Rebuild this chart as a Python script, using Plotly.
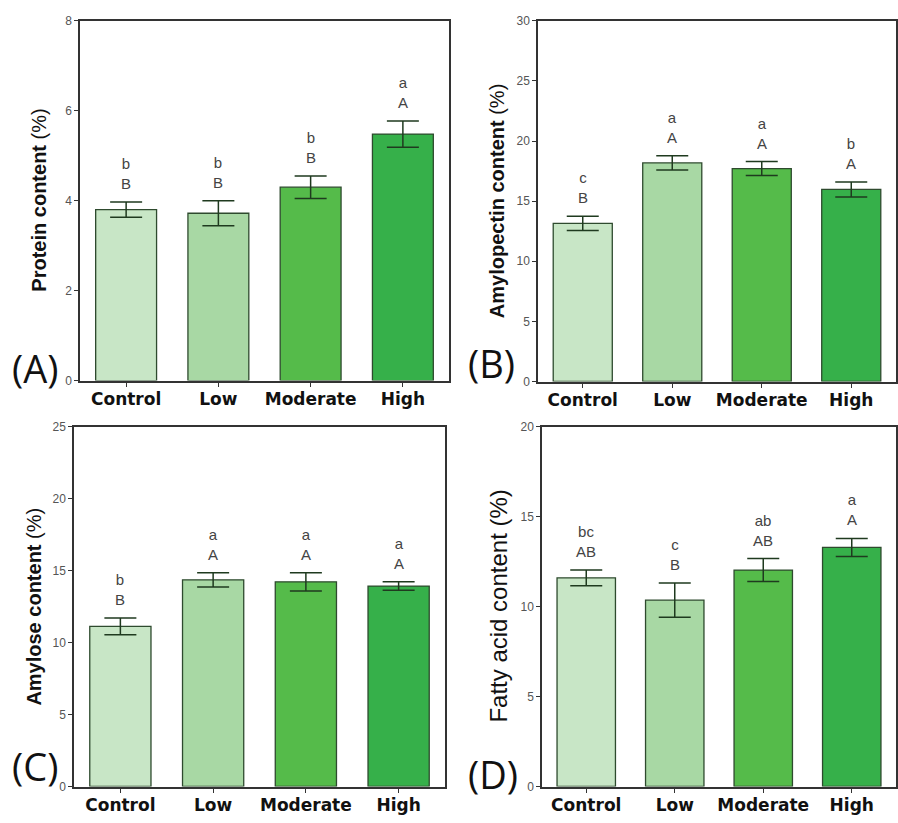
import plotly.graph_objects as go

categories = ["Control", "Low", "Moderate", "High"]
colors = ["#c8e6c6", "#a8d8a4", "#55bb4a", "#36b04a"]

protein = [3.80, 3.72, 4.30, 5.48]
protein_err = [0.17, 0.28, 0.25, 0.29]
protein_lower = ["b", "b", "b", "a"]
protein_upper = ["B", "B", "B", "A"]

amylopectin = [13.15, 18.18, 17.71, 15.97]
amylopectin_err = [0.6, 0.6, 0.58, 0.62]
amylopectin_lower = ["c", "a", "a", "b"]
amylopectin_upper = ["B", "A", "A", "A"]

amylose = [11.13, 14.36, 14.22, 13.93]
amylose_err = [0.58, 0.5, 0.64, 0.3]
amylose_lower = ["b", "a", "a", "a"]
amylose_upper = ["B", "A", "A", "A"]

fatty = [11.60, 10.36, 12.03, 13.29]
fatty_err = [0.44, 0.95, 0.64, 0.5]
fatty_lower = ["bc", "c", "ab", "a"]
fatty_upper = ["AB", "B", "AB", "A"]

W, H = 898, 823

panels = [
    dict(vals=protein, err=protein_err, lo=protein_lower, up=protein_upper,
         ymax=8, dtick=2, title="<b>Protein content</b> (%)", tsize=20,
         box=(80, 449, 14, 380), tx=39, label="(A)", lx=10, ly=367),
    dict(vals=amylopectin, err=amylopectin_err, lo=amylopectin_lower, up=amylopectin_upper,
         ymax=30, dtick=5, title="<b>Amylopectin content</b> (%)", tsize=20,
         box=(538, 896, 14, 381), tx=497, label="(B)", lx=466, ly=362),
    dict(vals=amylose, err=amylose_err, lo=amylose_lower, up=amylose_upper,
         ymax=25, dtick=5, title="<b>Amylose content</b> (%)", tsize=20,
         box=(74, 445, 427, 793), tx=34, label="(C)", lx=10, ly=772),
    dict(vals=fatty, err=fatty_err, lo=fatty_lower, up=fatty_upper,
         ymax=20, dtick=5, title="Fatty acid content (%)", tsize=24,
         box=(542, 896, 427, 793), tx=499, label="(D)", lx=466, ly=780),
]

fig = go.Figure()
annotations = []
layout = {}
for i, p in enumerate(panels):
    n = "" if i == 0 else str(i + 1)
    xa, ya = "x" + n, "y" + n
    x0, x1, y0, y1 = p["box"]
    fig.add_trace(go.Bar(
        x=categories, y=p["vals"], xaxis=xa, yaxis=ya,
        marker=dict(color=colors, line=dict(color="#2e4a2e", width=1.3)),
        error_y=dict(type="data", array=p["err"], visible=True,
                     color="#1f3a1f", thickness=1.5, width=16),
        width=0.66, showlegend=False,
    ))
    layout["xaxis" + n] = dict(
        domain=[x0 / W, x1 / W], anchor=ya, range=[-0.5, 3.5],
        showline=True, linecolor="#333", linewidth=1.5, mirror=True,
        ticks="outside", ticklen=5, tickcolor="#333", ticklabelstandoff=-3,
        tickfont=dict(family="DejaVu Sans", size=17, color="#111"),
        tickprefix="<b>", ticksuffix="</b>", showgrid=False, zeroline=False,
    )
    layout["yaxis" + n] = dict(
        domain=[1 - y1 / H, 1 - y0 / H], anchor=xa, range=[0, p["ymax"]],
        dtick=p["dtick"], tick0=0,
        showline=True, linecolor="#333", linewidth=1.5, mirror=True,
        ticks="outside", ticklen=4, tickcolor="#333",
        tickfont=dict(family="Liberation Sans Narrow, Arial", size=12, color="#555"),
        showgrid=False, zeroline=False,
    )
    for j, c in enumerate(categories):
        annotations.append(dict(
            x=c, y=p["vals"][j] + p["err"][j], xref=xa, yref=ya,
            text=p["lo"][j] + "<br>" + p["up"][j], showarrow=False,
            yanchor="bottom", yshift=8,
            font=dict(family="Liberation Sans, Arial", size=15, color="#444"),
        ))
    annotations.append(dict(
        x=p["tx"] / W, y=1 - ((y0 + y1) / 2) / H, xref="paper", yref="paper",
        text=p["title"], textangle=-90, showarrow=False,
        xanchor="center", yanchor="middle",
        font=dict(family="Liberation Sans, Arial", size=p["tsize"], color="#111"),
    ))
    annotations.append(dict(
        x=p["lx"] / W, y=1 - p["ly"] / H, xref="paper", yref="paper",
        text=p["label"], showarrow=False, xanchor="left", yanchor="middle",
        font=dict(family="Open Sans", size=38, color="#111"),
    ))

fig.update_layout(
    width=W, height=H, margin=dict(l=0, r=0, t=0, b=0),
    paper_bgcolor="white", plot_bgcolor="white",
    annotations=annotations, **layout,
)
fig.write_html("out.html")
